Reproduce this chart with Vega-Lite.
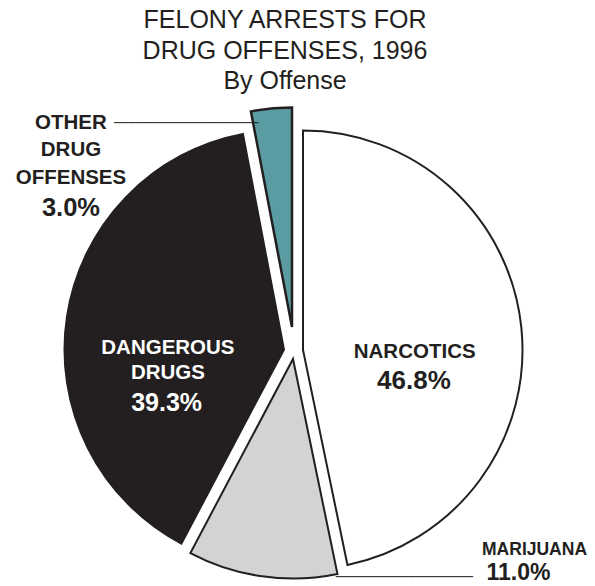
{
  "width": 588,
  "height": 392,
  "autosize": "none",
  "padding": {"left": 0, "top": 155, "right": 7, "bottom": 39},
  "config": {"view": {"stroke": null}},
  "title": {
    "text": ["FELONY ARRESTS FOR", "DRUG OFFENSES, 1996", "By Offense"],
    "fontSize": 25,
    "fontWeight": "normal",
    "font": "Liberation Sans",
    "color": "#231f20",
    "lineHeight": 30.5,
    "offset": -10,
    "dx": -9
  },
  "data": {
    "values": [
      {"category": "NARCOTICS", "name": "NARCOTICS", "pct": "46.8%", "value": 46.8, "order": 1},
      {"category": "MARIJUANA", "name": "MARIJUANA", "pct": "11.0%", "value": 11.0, "order": 2},
      {"category": "DANGEROUS DRUGS", "name": "DANGEROUS|DRUGS", "pct": "39.3%", "value": 39.3, "order": 3},
      {"category": "OTHER DRUG OFFENSES", "name": "OTHER|DRUG|OFFENSES", "pct": "3.0%", "value": 3.0, "order": 4}
    ]
  },
  "encoding": {
    "theta": {"field": "value", "type": "quantitative", "stack": true},
    "order": {"field": "order", "type": "quantitative"}
  },
  "layer": [
    {
      "mark": {"type": "arc", "radius": 219.5, "stroke": "#231f20", "strokeWidth": 2, "xOffset": 9, "yOffset": -1},
      "encoding": {
        "color": {"field": "category", "type": "nominal", "legend": null, "scale": {"domain": ["NARCOTICS", "MARIJUANA", "DANGEROUS DRUGS", "OTHER DRUG OFFENSES"], "range": ["#ffffff", "#d1d3d4", "#231f20", "#5a9ca1"]}},
        "opacity": {"condition": {"test": "datum.category == 'NARCOTICS'", "value": 1}, "value": 0}
      }
    },
    {
      "mark": {"type": "arc", "radius": 219.5, "stroke": "#231f20", "strokeWidth": 2, "xOffset": -1, "yOffset": 8},
      "encoding": {
        "color": {"field": "category", "type": "nominal", "legend": null},
        "opacity": {"condition": {"test": "datum.category == 'MARIJUANA'", "value": 1}, "value": 0}
      }
    },
    {
      "mark": {"type": "arc", "radius": 219.5, "stroke": "#231f20", "strokeWidth": 2, "xOffset": -10, "yOffset": -1.5},
      "encoding": {
        "color": {"field": "category", "type": "nominal", "legend": null},
        "opacity": {"condition": {"test": "datum.category == 'DANGEROUS DRUGS'", "value": 1}, "value": 0}
      }
    },
    {
      "mark": {"type": "arc", "radius": 219.5, "stroke": "#231f20", "strokeWidth": 2.5, "xOffset": -2, "yOffset": -24},
      "encoding": {
        "color": {"field": "category", "type": "nominal", "legend": null},
        "opacity": {"condition": {"test": "datum.category == 'OTHER DRUG OFFENSES'", "value": 1}, "value": 0}
      }
    },
    {
      "mark": {"type": "text", "radius": 120, "dx": 1.3, "dy": 19, "font": "Liberation Sans", "fontWeight": "bold", "fontSize": 20.5, "align": "center", "baseline": "alphabetic", "fill": "#231f20"},
      "encoding": {
        "text": {"condition": {"test": "datum.category == 'NARCOTICS'", "field": "name"}, "value": ""}
      }
    },
    {
      "mark": {"type": "text", "radius": 120, "dx": 0.6, "dy": 50, "font": "Liberation Sans", "fontWeight": "bold", "fontSize": 26, "align": "center", "baseline": "alphabetic", "fill": "#231f20"},
      "encoding": {
        "text": {"condition": {"test": "datum.category == 'NARCOTICS'", "field": "pct"}, "value": ""}
      }
    },
    {
      "mark": {"type": "text", "radius": 127, "dx": -0.5, "dy": 21.8, "font": "Liberation Sans", "fontWeight": "bold", "fontSize": 20.5, "lineHeight": 25, "lineBreak": "|", "align": "center", "baseline": "alphabetic", "fill": "#ffffff"},
      "encoding": {
        "text": {"condition": {"test": "datum.category == 'DANGEROUS DRUGS'", "field": "name"}, "value": ""}
      }
    },
    {
      "mark": {"type": "text", "radius": 127, "dx": -1.8, "dy": 79.2, "font": "Liberation Sans", "fontWeight": "bold", "fontSize": 25, "align": "center", "baseline": "alphabetic", "fill": "#ffffff"},
      "encoding": {
        "text": {"condition": {"test": "datum.category == 'DANGEROUS DRUGS'", "field": "pct"}, "value": ""}
      }
    },
    {
      "mark": {"type": "text", "radius": 230, "dx": -201.4, "dy": 7, "font": "Liberation Sans", "fontWeight": "bold", "fontSize": 20.5, "lineHeight": 27.3, "lineBreak": "|", "align": "center", "baseline": "alphabetic", "fill": "#231f20"},
      "encoding": {
        "text": {"condition": {"test": "datum.category == 'OTHER DRUG OFFENSES'", "field": "name"}, "value": ""}
      }
    },
    {
      "mark": {"type": "text", "radius": 230, "dx": -201.4, "dy": 94, "font": "Liberation Sans", "fontWeight": "bold", "fontSize": 25.5, "align": "center", "baseline": "alphabetic", "fill": "#231f20"},
      "encoding": {
        "text": {"condition": {"test": "datum.category == 'OTHER DRUG OFFENSES'", "field": "pct"}, "value": ""}
      }
    },
    {
      "mark": {"type": "text", "radius": 230, "dx": 272.9, "dy": -23.6, "font": "Liberation Sans", "fontWeight": "bold", "fontSize": 17.5, "align": "center", "baseline": "alphabetic", "fill": "#231f20"},
      "encoding": {
        "text": {"condition": {"test": "datum.category == 'MARIJUANA'", "field": "name"}, "value": ""}
      }
    },
    {
      "mark": {"type": "text", "radius": 230, "dx": 256.9, "dy": 1.4, "font": "Liberation Sans", "fontWeight": "bold", "fontSize": 23, "align": "center", "baseline": "alphabetic", "fill": "#231f20"},
      "encoding": {
        "text": {"condition": {"test": "datum.category == 'MARIJUANA'", "field": "pct"}, "value": ""}
      }
    },
    {
      "mark": {"type": "text", "radius": 230, "dx": -158.4, "dy": 1.3, "font": "DejaVu Sans Mono", "fontSize": 12, "align": "left", "baseline": "middle", "fill": "#231f20"},
      "encoding": {
        "text": {"condition": {"test": "datum.category == 'OTHER DRUG OFFENSES'", "value": "────────────────────"}, "value": ""}
      }
    },
    {
      "mark": {"type": "text", "radius": 230, "dx": 74.1, "dy": -1.3, "font": "DejaVu Sans Mono", "fontSize": 12, "align": "left", "baseline": "middle", "fill": "#231f20"},
      "encoding": {
        "text": {"condition": {"test": "datum.category == 'MARIJUANA'", "value": "───────────────────"}, "value": ""}
      }
    }
  ]
}
